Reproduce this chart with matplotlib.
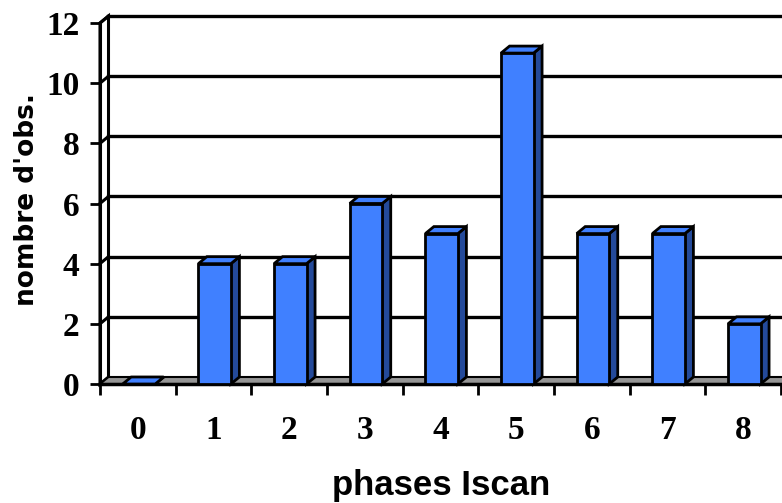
import matplotlib
matplotlib.use('Agg')
import matplotlib.pyplot as plt
from matplotlib.patches import Polygon

# data
phases = [0, 1, 2, 3, 4, 5, 6, 7, 8]
nb_obs = [0, 4, 4, 6, 5, 11, 5, 5, 2]
yticks = [0, 2, 4, 6, 8, 10, 12]

front_col = '#4080FF'
side_col = '#244A9A'
floor_col = '#969696'

fig = plt.figure(figsize=(7.82, 5.03), dpi=100)
# axes = front plane of the 3d box
ax = fig.add_axes([100/782, (503-384)/503, 681/782, 361/503])
ax.set_xlim(-0.5, 8.5)
ax.set_ylim(0, 12)
for s in ax.spines.values():
    s.set_visible(False)
ax.set_facecolor('none')

dx = 8.5/75.67   # depth offset in data units
dy = 7/30.08
x0, x1 = -0.5, 8.5

def poly(pts, fc, z, lw=2):
    p = Polygon(pts, closed=True, facecolor=fc, edgecolor='black', linewidth=lw,
                joinstyle='miter', clip_on=False, zorder=z)
    ax.add_patch(p)

# left wall
poly([(x0, 0), (x0, 12), (x0+dx, 12+dy), (x0+dx, dy)], 'white', 1, lw=2.2)
# back wall gridlines + wall diagonals
for v in yticks[1:]:
    ax.plot([x0+dx, x1+dx+1], [v+dy, v+dy], color='black', lw=2.4, clip_on=False, zorder=1)
    ax.plot([x0, x0+dx], [v, v+dy], color='black', lw=2.2, clip_on=False, zorder=1)
# floor
poly([(x0, 0), (x1+1, 0), (x1+1+dx, dy), (x0+dx, dy)], floor_col, 2, lw=1.5)
ax.plot([x0, x1+1], [0, 0], color='black', lw=2.5, clip_on=False, zorder=2)
ax.plot([x0, x0], [0, 12], color='black', lw=2.2, clip_on=False, zorder=2)

# bars
w = 0.43
for xi, h in zip(phases, nb_obs):
    l = xi - 0.2
    r = l + w
    poly([(r, 0), (r+dx, dy), (r+dx, h+dy), (r, h)], side_col, 3)
    poly([(l, h), (r, h), (r+dx, h+dy), (l+dx, h+dy)], front_col, 3)
    if h > 0:
        ax.bar(l, h, width=w, align='edge', color=front_col, edgecolor='black',
               linewidth=2, zorder=4, clip_on=False)

ax.set_yticks(yticks)
ax.set_xticks(phases)
ax.set_xticks([p - 0.5 for p in phases] + [8.5], minor=True)
ax.tick_params(axis='y', direction='out', length=7, width=2, pad=8)
ax.tick_params(axis='x', which='major', length=0, pad=22)
ax.tick_params(axis='x', which='minor', direction='out', length=8, width=2)
for lab in ax.get_xticklabels() + ax.get_yticklabels():
    lab.set_fontfamily('Liberation Serif')
    lab.set_fontweight('bold')
    lab.set_fontsize(24)

fig.text(27/782, 1-200/503, "nombre d'obs.", rotation=90, ha='center', va='center',
         fontsize=19, fontweight='bold', family='DejaVu Sans')
fig.text(441/782, 1-485/503, 'phases Iscan', ha='center', va='center',
         fontsize=25, fontweight='bold', family='Liberation Sans')

fig.savefig('out.png', dpi=100)
